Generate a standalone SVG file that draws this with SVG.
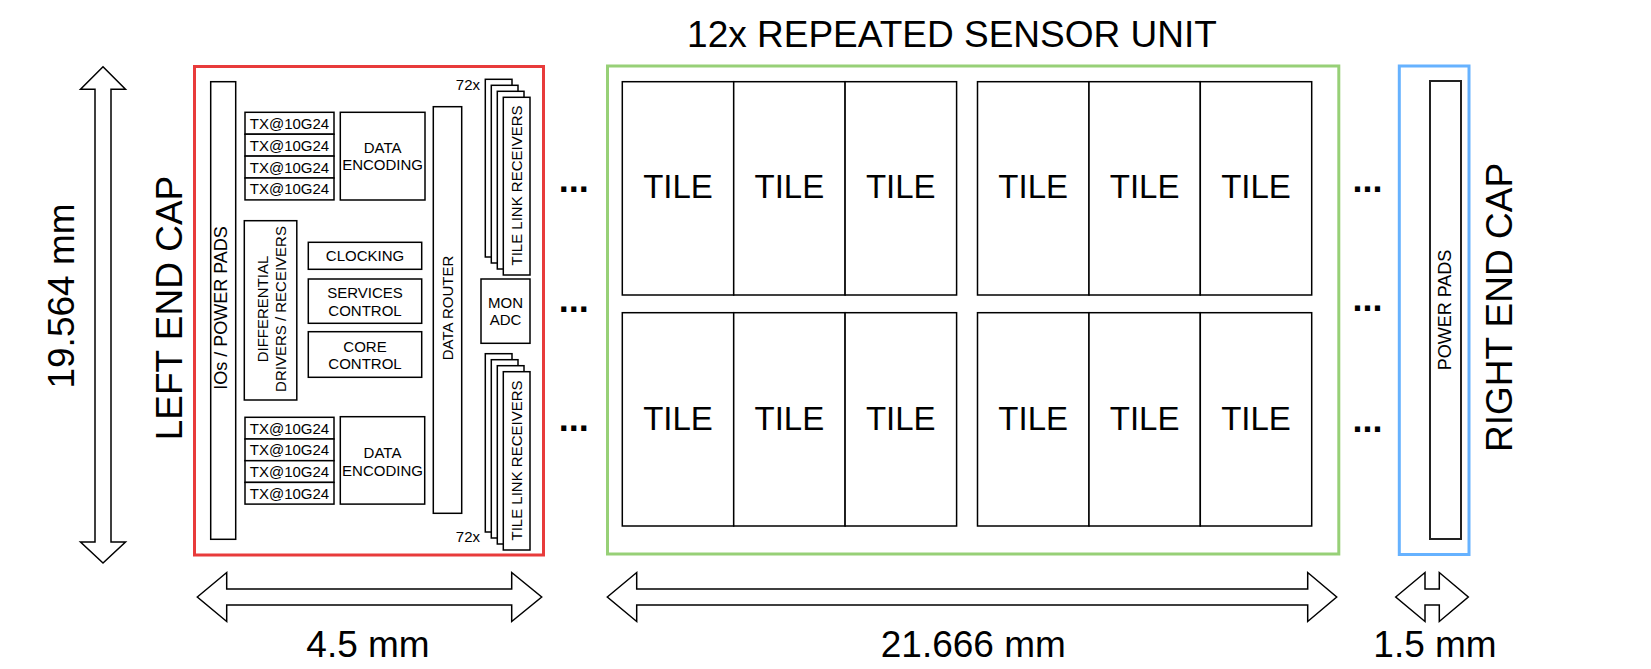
<svg xmlns="http://www.w3.org/2000/svg" width="1651" height="669" viewBox="0 0 1651 669">
<style>
text{font-family:"Liberation Sans",Arial,sans-serif;fill:#000}
.b{fill:#fff;stroke:#000;stroke-width:1.5}
.s{font-size:15px;text-anchor:middle}
.m{font-size:18px;text-anchor:middle}
.l{font-size:37px;text-anchor:middle}
.t{font-size:33px;text-anchor:middle}
.d{font-size:36px;font-weight:bold;text-anchor:middle}
.arr{fill:#fff;stroke:#000;stroke-width:1.5;stroke-linejoin:miter}
</style>
<rect width="1651" height="669" fill="#fff"/>

<text class="l" x="952" y="47">12x REPEATED SENSOR UNIT</text>
<text class="l" transform="translate(73.8,296) rotate(-90)">19.564 mm</text>
<text class="l" transform="translate(182,308) rotate(-90)">LEFT END CAP</text>
<text class="l" transform="translate(1512,307.5) rotate(-90)">RIGHT END CAP</text>

<g id="left-end-cap">
<rect x="194.5" y="66.5" width="349" height="488.5" fill="#fff" stroke="#e83b3b" stroke-width="3"/>
<g id="ios-power-pads">
<rect class="b" x="210.7" y="81.7" width="25" height="457.6"/>
<text class="m" transform="translate(226.5,308) rotate(-90)">IOs / POWER PADS</text>
</g>
<g id="tx-upper">
<rect class="b" x="245" y="112.3" width="89" height="21.9"/>
<rect class="b" x="245" y="134.2" width="89" height="21.9"/>
<rect class="b" x="245" y="156.1" width="89" height="21.9"/>
<rect class="b" x="245" y="178" width="89" height="21.9"/>
<text class="s" x="289.5" y="128.7">TX@10G24</text>
<text class="s" x="289.5" y="150.6">TX@10G24</text>
<text class="s" x="289.5" y="172.5">TX@10G24</text>
<text class="s" x="289.5" y="194.4">TX@10G24</text>
</g>
<g id="data-encoding-upper">
<rect class="b" x="340.3" y="112.3" width="84.7" height="87.7"/>
<text class="s" x="382.6" y="152.7">DATA</text>
<text class="s" x="382.6" y="170.2">ENCODING</text>
</g>
<g id="differential-drivers">
<rect class="b" x="244.3" y="220.7" width="52.5" height="179.3"/>
<text class="s" transform="translate(270.5,309) rotate(-90)"><tspan x="0" y="-2.8">DIFFERENTIAL</tspan><tspan x="0" y="15.4">DRIVERS / RECEIVERS</tspan></text>
</g>
<g id="clocking">
<rect class="b" x="308.3" y="242.3" width="113.4" height="27"/>
<text class="s" x="365" y="261">CLOCKING</text>
</g>
<g id="services-control">
<rect class="b" x="308.3" y="279" width="113.4" height="44.3"/>
<text class="s" x="365" y="297.7">SERVICES</text>
<text class="s" x="365" y="315.7">CONTROL</text>
</g>
<g id="core-control">
<rect class="b" x="308.3" y="331.7" width="113.4" height="45.6"/>
<text class="s" x="365" y="351.7">CORE</text>
<text class="s" x="365" y="369.4">CONTROL</text>
</g>
<g id="tx-lower">
<rect class="b" x="245" y="417.3" width="89" height="21.7"/>
<rect class="b" x="245" y="439" width="89" height="21.7"/>
<rect class="b" x="245" y="460.7" width="89" height="21.7"/>
<rect class="b" x="245" y="482.4" width="89" height="21.7"/>
<text class="s" x="289.5" y="433.6">TX@10G24</text>
<text class="s" x="289.5" y="455.3">TX@10G24</text>
<text class="s" x="289.5" y="477">TX@10G24</text>
<text class="s" x="289.5" y="498.7">TX@10G24</text>
</g>
<g id="data-encoding-lower">
<rect class="b" x="340.3" y="416.7" width="84.4" height="87.4"/>
<text class="s" x="382.5" y="458.3">DATA</text>
<text class="s" x="382.5" y="475.9">ENCODING</text>
</g>
<g id="data-router">
<rect class="b" x="433.3" y="106.7" width="28.4" height="406.6"/>
<text class="s" transform="translate(452.9,308) rotate(-90)">DATA ROUTER</text>
</g>
<g id="mon-adc">
<rect class="b" x="481" y="279" width="49" height="64.3"/>
<text class="s" x="505.5" y="307.7">MON</text>
<text class="s" x="505.5" y="325.3">ADC</text>
</g>
<g id="tile-link-receivers-upper">
<text class="s" x="480" y="89.5" style="text-anchor:end">72x</text>
<rect class="b" x="485.3" y="79.3" width="26.7" height="177.7"/>
<rect class="b" x="491.3" y="85.3" width="26.7" height="177.7"/>
<rect class="b" x="497.3" y="91.3" width="26.7" height="177.7"/>
<rect class="b" x="503.3" y="97.3" width="26.7" height="177.7"/>
<text class="s" transform="translate(522.1,185.5) rotate(-90)">TILE LINK RECEIVERS</text>
</g>
<g id="tile-link-receivers-lower">
<rect class="b" x="485.3" y="353.7" width="26.7" height="178.3"/>
<rect class="b" x="491.3" y="359.7" width="26.7" height="178.3"/>
<rect class="b" x="497.3" y="365.7" width="26.7" height="178.3"/>
<rect class="b" x="503.3" y="371.7" width="26.7" height="178.3"/>
<text class="s" x="480" y="541.7" style="text-anchor:end">72x</text>
<text class="s" transform="translate(522.1,460.5) rotate(-90)">TILE LINK RECEIVERS</text>
</g>
</g>

<g id="ellipses-left">
<text class="d" x="573.7" y="192">...</text>
<text class="d" x="573.7" y="312">...</text>
<text class="d" x="573.7" y="431.3">...</text>
</g>

<g id="sensor-unit">
<rect x="607.5" y="66" width="731.3" height="488" fill="#fff" stroke="#97d077" stroke-width="3"/>
<g id="tiles-row1-group1">
<rect class="b" x="622.3" y="81.7" width="111.4" height="213.3"/>
<rect class="b" x="733.7" y="81.7" width="111.4" height="213.3"/>
<rect class="b" x="845.1" y="81.7" width="111.5" height="213.3"/>
<text class="t" x="678" y="198.3">TILE</text>
<text class="t" x="789.4" y="198.3">TILE</text>
<text class="t" x="900.8" y="198.3">TILE</text>
</g>
<g id="tiles-row1-group2">
<rect class="b" x="977.5" y="81.7" width="111.5" height="213.3"/>
<rect class="b" x="1089" y="81.7" width="111.3" height="213.3"/>
<rect class="b" x="1200.3" y="81.7" width="111.4" height="213.3"/>
<text class="t" x="1033.2" y="198.3">TILE</text>
<text class="t" x="1144.6" y="198.3">TILE</text>
<text class="t" x="1256" y="198.3">TILE</text>
</g>
<g id="tiles-row2-group1">
<rect class="b" x="622.3" y="312.7" width="111.4" height="213.3"/>
<rect class="b" x="733.7" y="312.7" width="111.4" height="213.3"/>
<rect class="b" x="845.1" y="312.7" width="111.5" height="213.3"/>
<text class="t" x="678" y="430">TILE</text>
<text class="t" x="789.4" y="430">TILE</text>
<text class="t" x="900.8" y="430">TILE</text>
</g>
<g id="tiles-row2-group2">
<rect class="b" x="977.5" y="312.7" width="111.5" height="213.3"/>
<rect class="b" x="1089" y="312.7" width="111.3" height="213.3"/>
<rect class="b" x="1200.3" y="312.7" width="111.4" height="213.3"/>
<text class="t" x="1033.2" y="430">TILE</text>
<text class="t" x="1144.6" y="430">TILE</text>
<text class="t" x="1256" y="430">TILE</text>
</g>
</g>

<g id="ellipses-right">
<text class="d" x="1367.5" y="191.7">...</text>
<text class="d" x="1367.5" y="310.7">...</text>
<text class="d" x="1367.5" y="431.5">...</text>
</g>

<g id="right-end-cap">
<rect x="1399.3" y="66" width="69.7" height="488.5" fill="#fff" stroke="#66b2ff" stroke-width="3"/>
<rect x="1430" y="81" width="31" height="458" fill="#fff" stroke="#222" stroke-width="2"/>
<text class="m" transform="translate(1451.4,310) rotate(-90)">POWER PADS</text>
</g>

<g id="connectors">
<polygon class="arr" points="103,66.7 125.5,89.3 111,89.3 111,542 125.5,542 103,563 80.5,542 95,542 95,89.3 80.5,89.3"/>
<polygon class="arr" points="197.3,597 226.7,572.5 226.7,589 511.7,589 511.7,572.5 541.7,597 511.7,621.5 511.7,605 226.7,605 226.7,621.5"/>
<polygon class="arr" points="607.3,597 636.7,572.5 636.7,589 1307.7,589 1307.7,572.5 1336.7,597 1307.7,621.5 1307.7,605 636.7,605 636.7,621.5"/>
<polygon class="arr" points="1395.7,597 1425,572.5 1425,589 1439.3,589 1439.3,572.5 1468.3,597 1439.3,621.5 1439.3,605 1425,605 1425,621.5"/>
</g>

<text class="l" x="368" y="657">4.5 mm</text>
<text class="l" x="973.3" y="657">21.666 mm</text>
<text class="l" x="1435" y="657">1.5 mm</text>
</svg>
